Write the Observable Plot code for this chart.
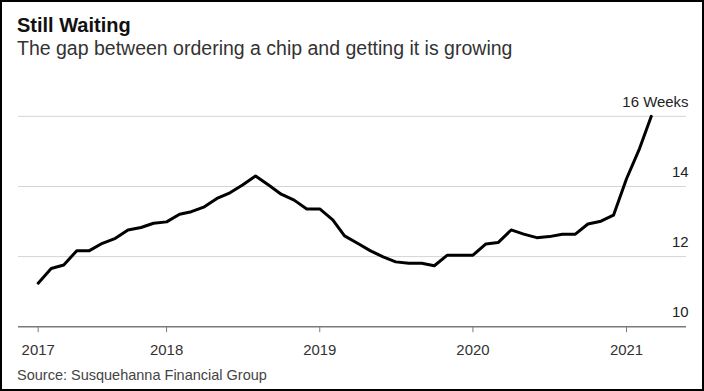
<!DOCTYPE html>
<html><head><meta charset="utf-8">
<script src="https://cdn.jsdelivr.net/npm/d3@7"></script>
<script src="https://cdn.jsdelivr.net/npm/@observablehq/plot@0.6"></script>
<style>
html,body{margin:0;padding:0;background:#fff;}
#frame{position:relative;width:704px;height:391px;box-sizing:border-box;border:2px solid #000;background:#fff;font-family:"Liberation Sans",Arial,Helvetica,sans-serif;overflow:hidden;}
.t{position:absolute;left:15px;white-space:nowrap;line-height:1;}
#title{top:13px;font-size:20px;font-weight:bold;color:#111;}
#subtitle{top:36.5px;font-size:19.5px;color:#333;}
#source{top:365.5px;font-size:14.5px;color:#444;}
#chart{position:absolute;left:-2px;top:58px;}
</style></head>
<body>
<div id="frame">
  <div id="title" class="t">Still Waiting</div>
  <div id="subtitle" class="t">The gap between ordering a chip and getting it is growing</div>
  <div id="chart"></div>
  <div id="source" class="t">Source: Susquehanna Financial Group</div>
</div>
<script>
const months = [
  "2017-03","2017-04","2017-05","2017-06","2017-07","2017-08","2017-09","2017-10","2017-11","2017-12",
  "2018-01","2018-02","2018-03","2018-04","2018-05","2018-06","2018-07","2018-08","2018-09","2018-10","2018-11","2018-12",
  "2019-01","2019-02","2019-03","2019-04","2019-05","2019-06","2019-07","2019-08","2019-09","2019-10","2019-11","2019-12",
  "2020-01","2020-02","2020-03","2020-04","2020-05","2020-06","2020-07","2020-08","2020-09","2020-10","2020-11","2020-12",
  "2021-01","2021-02","2021-03"
];
const leadTimeWeeks = [
  11.24,11.66,11.76,12.17,12.17,12.38,12.52,12.76,12.83,12.95,
  12.99,13.21,13.28,13.42,13.66,13.82,14.04,14.30,14.04,13.78,13.61,13.36,
  13.36,13.05,12.59,12.38,12.17,11.99,11.85,11.81,11.81,11.74,12.04,12.04,
  12.04,12.36,12.40,12.76,12.64,12.54,12.57,12.64,12.64,12.93,13.01,13.18,
  14.22,15.08,16.0
];
const xTickDates = ["2017-03-01","2018-01-01","2019-01-01","2020-01-01","2021-01-01"];
const xTickLabels = ["2017","2018","2019","2020","2021"];
const yTicks = [10,12,14,16];
const yTickLabels = ["10","12","14","16 Weeks"];
const gridTicks = [12,14,16];

const parseMonth = d3.utcParse("%Y-%m");
const parseDay = d3.utcParse("%Y-%m-%d");
const data = months.map((m,i)=>({date: parseMonth(m), value: leadTimeWeeks[i]}));
const xTicks = xTickDates.map(parseDay);

const chart = Plot.plot({
  width: 704,
  height: 300,
  marginLeft: 18,
  marginRight: 16,
  marginTop: 56,
  marginBottom: 33,
  x: {type: "utc", domain: [new Date(Date.UTC(2017,0,13)), new Date(Date.UTC(2021,4,24))]},
  y: {domain: [10,16], axis: null},
  style: {fontFamily: '"Liberation Sans",Arial,Helvetica,sans-serif', fontSize: "15px", color: "#333", background: "transparent", overflow: "visible"},
  marks: [
    Plot.ruleY(gridTicks, {stroke: "#d4d4d4", strokeWidth: 1}),
    Plot.ruleY([10], {stroke: "#7a7a7a", strokeWidth: 1.6}),
    Plot.axisX({ticks: xTicks, tickFormat: (d,i)=>xTickLabels[i], tickSize: 6, tickPadding: 12, stroke: "#7a7a7a", fill: "#333", fontSize: 15}),
    Plot.text(yTicks, {y: d=>d, text: (d,i)=>yTickLabels[i], frameAnchor: "right", textAnchor: "end", dx: 2, dy: -14.5, fontSize: 15, fill: "#222"}),
    Plot.line(data, {x: "date", y: "value", stroke: "#000", strokeWidth: 3, strokeLinejoin: "round"})
  ]
});
document.getElementById("chart").appendChild(chart);
</script>
</body></html>
